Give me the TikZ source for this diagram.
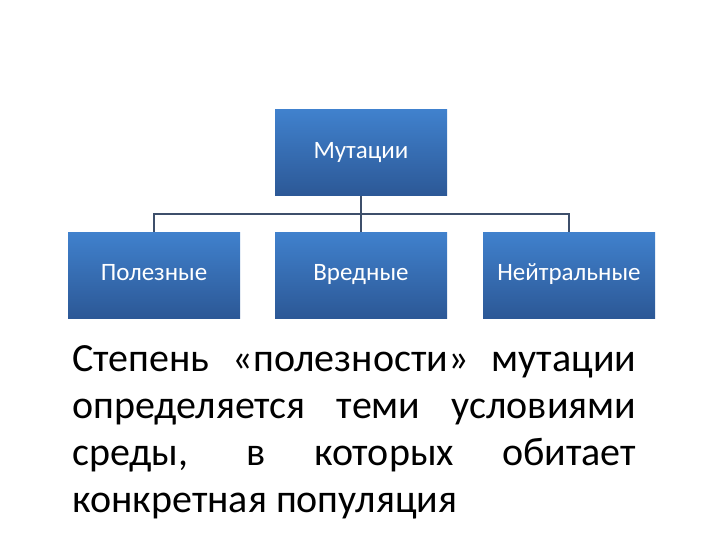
\documentclass[tikz,border=0pt]{standalone}
\usepackage{fontspec}
\setmainfont{Carlito}
\usetikzlibrary{positioning}
\definecolor{boxtop}{HTML}{4081CD}
\definecolor{boxbot}{HTML}{2C5896}
\definecolor{linecol}{HTML}{3D4F6B}

\begin{document}
\begin{tikzpicture}[x=1pt, y=-1pt,
    mbox/.style={minimum width=172pt, minimum height=86pt, inner sep=0pt,
      top color=boxtop, bottom color=boxbot, text=white,
      text height=1.3em, text depth=0.15em,
      font=\fontsize{25}{28}\selectfont},
    link/.style={draw=linecol, line width=1.5pt}]

    \useasboundingbox (0,0) rectangle (720,540);

    % блоки схемы
    \node[mbox] (mut) at (361,153) {Мутации};
    \node[mbox] (pol) at (154,275) {Полезные};
    \node[mbox] (vred) at (361,275) {Вредные};
    \node[mbox] (neit) at (569,275) {Нейтральные};

    % соединения
    \coordinate (junc) at (361,214);
    \draw[link] (mut.south) -- (junc);
    \foreach \b in {pol, vred, neit}
        \draw[link] (junc) -| (\b.north);

    % текст
    \node[anchor=north west, text width=564pt, align=justify, inner sep=0pt,
      font=\fontsize{40}{47}\selectfont] (txt) at (72,345)
      {Степень «полезности» мутации\linebreak определяется теми условиями\linebreak среды, в которых обитает\linebreak конкретная популяция};

\end{tikzpicture}
\end{document}
